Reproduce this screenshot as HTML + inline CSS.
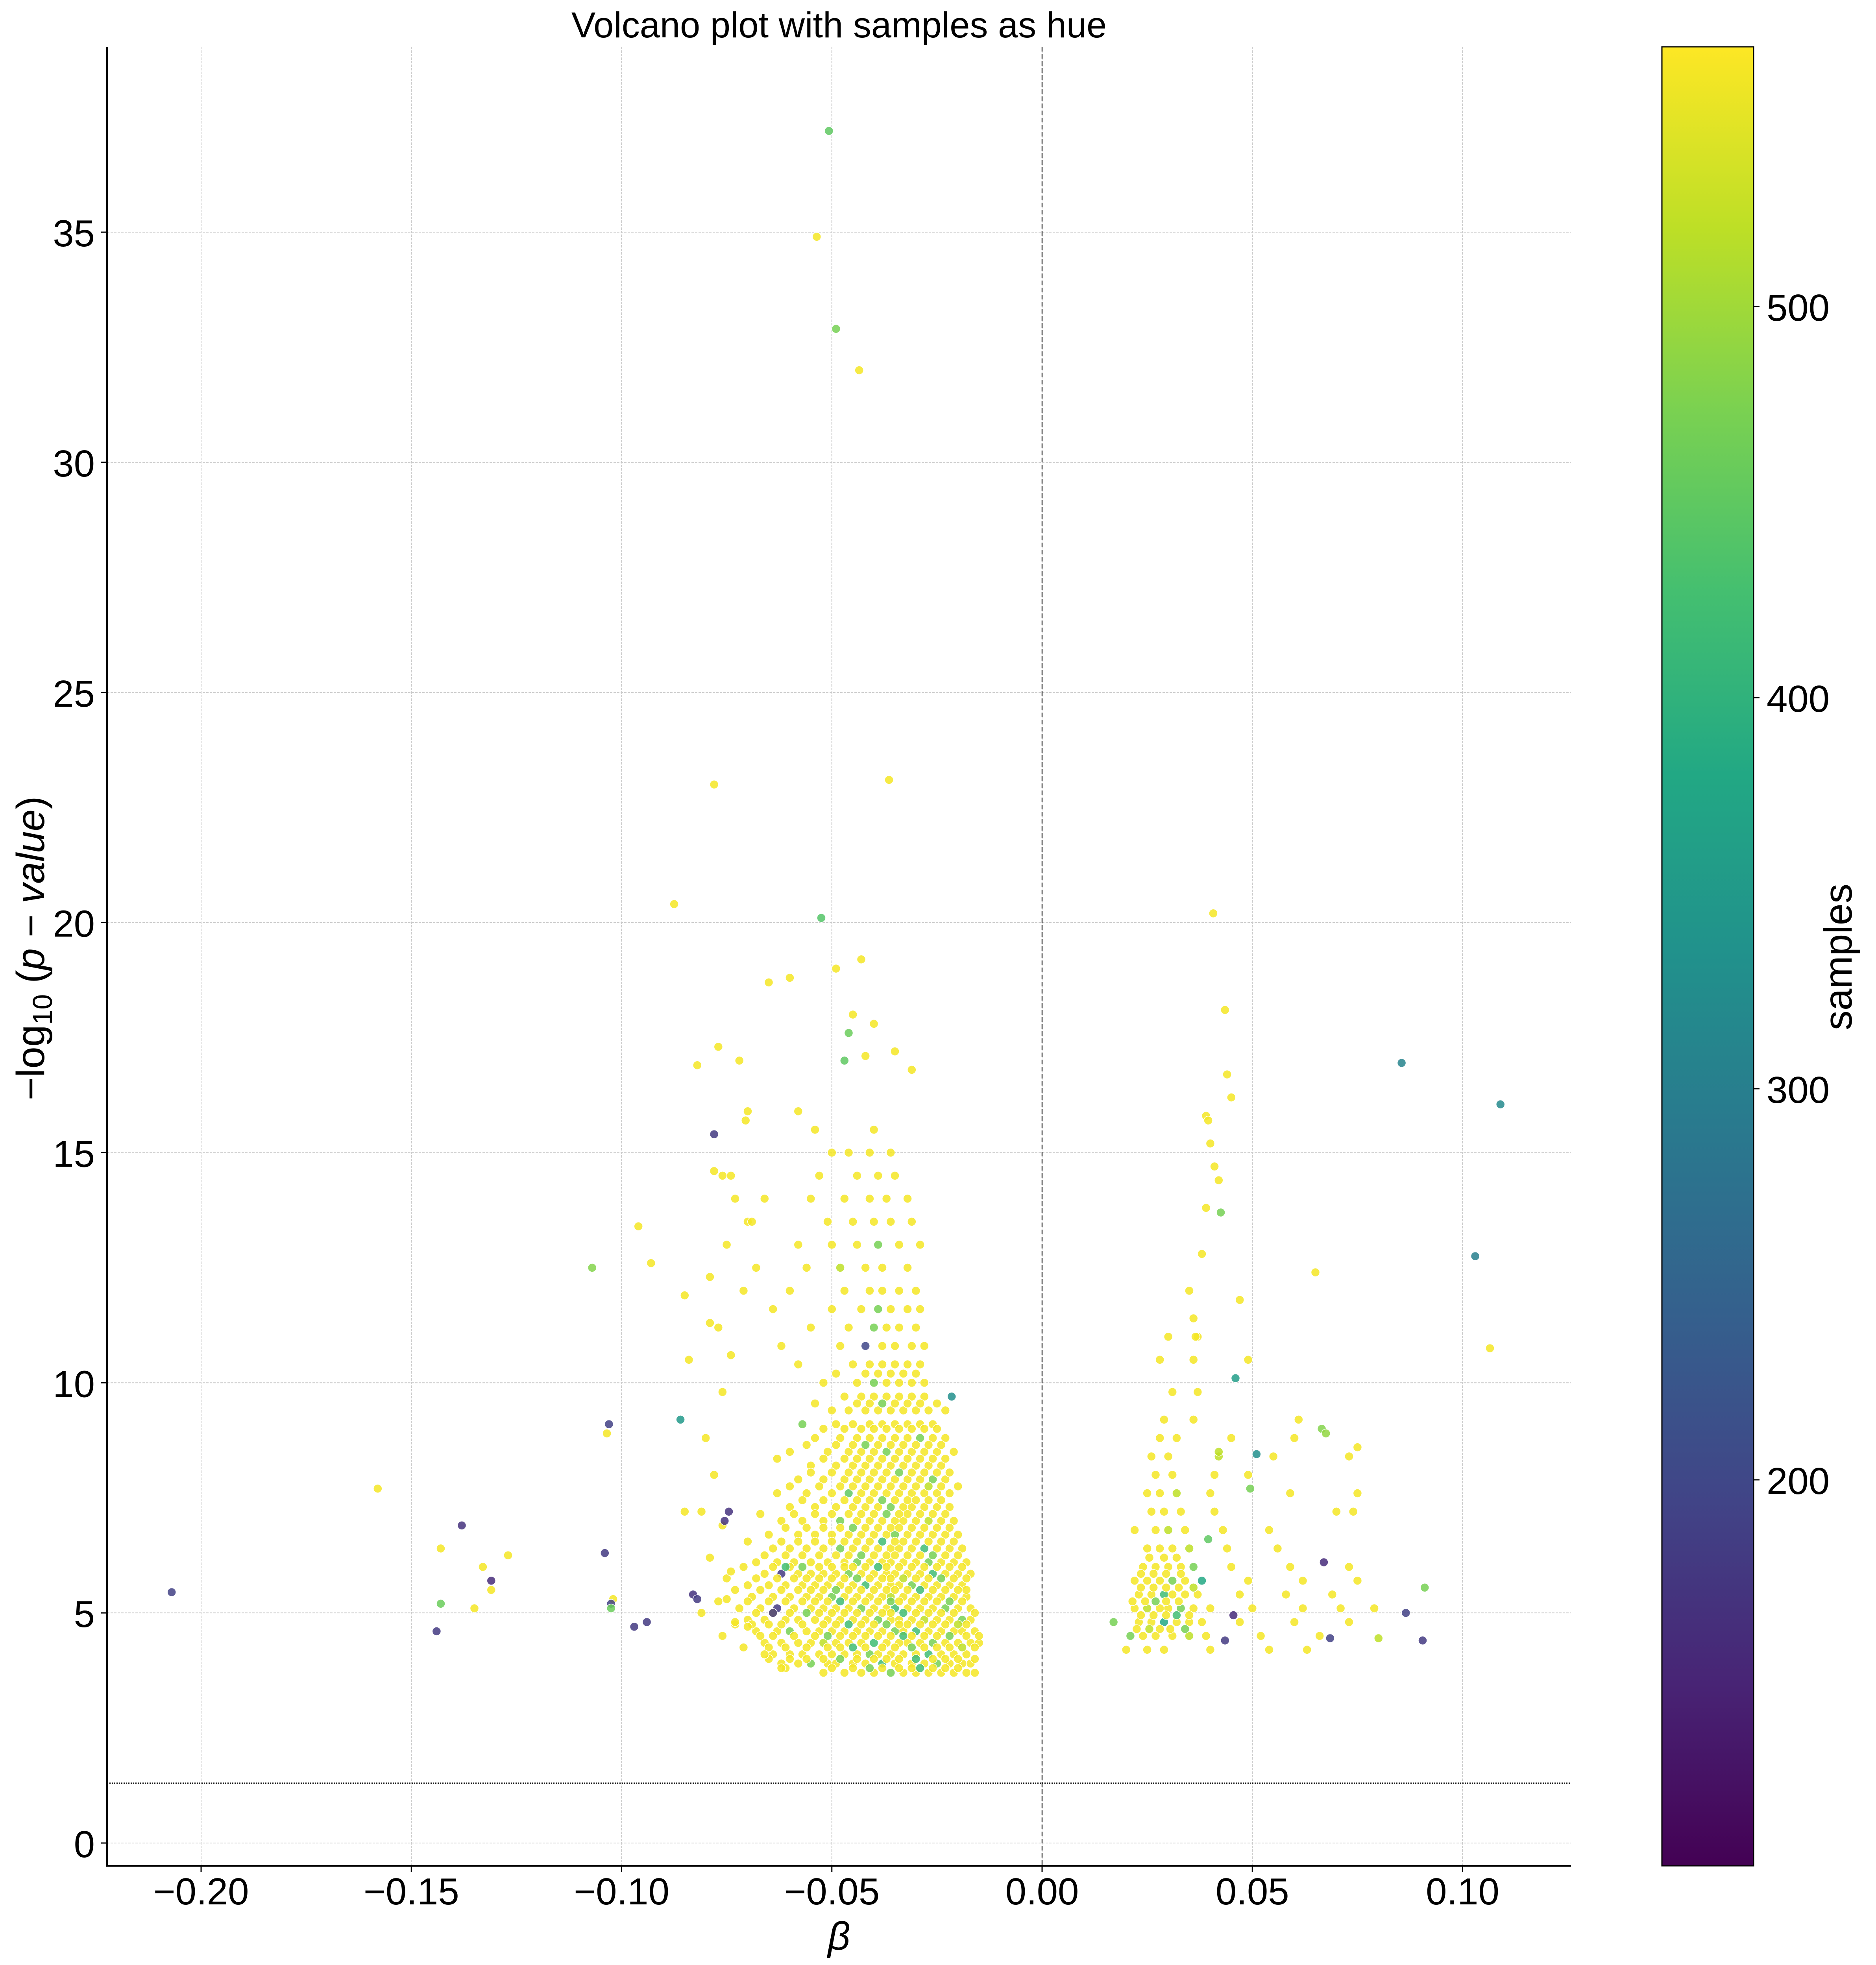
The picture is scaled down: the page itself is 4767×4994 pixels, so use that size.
<!DOCTYPE html>
<html><head><meta charset="utf-8"><style>
html,body{margin:0;padding:0;background:#fff;}
svg{display:block;font-family:"Liberation Sans",sans-serif;}
</style></head><body>
<svg id="chart" width="4767" height="4994" viewBox="0 0 4767 4994" xmlns="http://www.w3.org/2000/svg">
<defs>
<linearGradient id="viridis" x1="0" y1="1" x2="0" y2="0">
<stop offset="0" stop-color="#440154"/><stop offset="0.1" stop-color="#482475"/><stop offset="0.2" stop-color="#414487"/><stop offset="0.3" stop-color="#355f8d"/><stop offset="0.4" stop-color="#2a788e"/><stop offset="0.5" stop-color="#21918c"/><stop offset="0.6" stop-color="#22a884"/><stop offset="0.7" stop-color="#44bf70"/><stop offset="0.8" stop-color="#7ad151"/><stop offset="0.9" stop-color="#bddf26"/><stop offset="1" stop-color="#fde725"/>
</linearGradient>
</defs>
<g id="grid"></g>
<g id="refs"></g>
<g id="points"></g>
<g id="axes"></g>
<text x="2132" y="95" font-size="92" text-anchor="middle">Volcano plot with samples as hue</text>
<text x="2132" y="4955" font-size="100" font-style="italic" text-anchor="middle">β</text>
<text transform="translate(112,2410) rotate(-90)" font-size="100" text-anchor="middle">−log<tspan font-size="70" dy="20">10</tspan><tspan dy="-20"> (</tspan><tspan font-style="italic">p</tspan> − <tspan font-style="italic">value</tspan>)</text>
<rect x="4223" y="119" width="233" height="4623" fill="url(#viridis)" stroke="#000" stroke-width="3"/>
<g id="cbticks"></g>
<text transform="translate(4705,2432) rotate(-90)" font-size="100" text-anchor="middle">samples</text>
</svg>
<script>
const xTicks = [-0.20, -0.15, -0.10, -0.05, 0.00, 0.05, 0.10];
const xTickLabels = ["−0.20","−0.15","−0.10","−0.05","0.00","0.05","0.10"];
const yTicks = [0, 5, 10, 15, 20, 25, 30, 35];
const cbTicks = [200, 300, 400, 500];
const thresholdP = 1.301;

// dense left cluster: rows of (logp, betas, samples)
const leftRowLogp = [3.7,3.9,4.1,4.35,4.6,4.85,5.1,5.35,5.6,5.85,6.1,6.4,6.7,7.0,7.3,7.6,7.9,8.2,8.5,8.8,9.1,9.4,9.7,10.0,10.4,10.8,11.2,11.6,12.0,12.5,13.0,13.5,14.0,14.5,15.0,15.5];
const leftRowBeta = [
[-0.052,-0.047,-0.043,-0.040,-0.036,-0.033,-0.030,-0.027,-0.024,-0.021,-0.018,-0.016],
[-0.062,-0.058,-0.055,-0.051,-0.049,-0.045,-0.042,-0.038,-0.035,-0.031,-0.028,-0.025,-0.022,-0.019,-0.017],
[-0.064,-0.060,-0.057,-0.053,-0.050,-0.047,-0.044,-0.041,-0.039,-0.036,-0.033,-0.030,-0.027,-0.024,-0.021,-0.018],
[-0.066,-0.062,-0.058,-0.055,-0.052,-0.049,-0.046,-0.043,-0.040,-0.037,-0.034,-0.032,-0.029,-0.026,-0.023,-0.020,-0.017,-0.015],
[-0.068,-0.063,-0.060,-0.056,-0.053,-0.050,-0.047,-0.044,-0.041,-0.038,-0.035,-0.033,-0.030,-0.027,-0.024,-0.021,-0.019,-0.016],
[-0.070,-0.066,-0.061,-0.058,-0.054,-0.051,-0.048,-0.045,-0.042,-0.039,-0.036,-0.034,-0.031,-0.028,-0.025,-0.022,-0.019,-0.017],
[-0.072,-0.067,-0.063,-0.059,-0.055,-0.052,-0.049,-0.046,-0.043,-0.040,-0.037,-0.035,-0.032,-0.029,-0.026,-0.023,-0.020,-0.017],
[-0.069,-0.064,-0.060,-0.056,-0.053,-0.050,-0.047,-0.044,-0.041,-0.038,-0.036,-0.033,-0.030,-0.027,-0.024,-0.021,-0.018],
[-0.070,-0.065,-0.061,-0.057,-0.054,-0.051,-0.048,-0.045,-0.042,-0.039,-0.036,-0.034,-0.031,-0.028,-0.025,-0.022,-0.019],
[-0.066,-0.062,-0.058,-0.055,-0.052,-0.049,-0.046,-0.043,-0.040,-0.037,-0.035,-0.032,-0.029,-0.026,-0.023,-0.020,-0.017],
[-0.068,-0.063,-0.059,-0.055,-0.051,-0.047,-0.044,-0.041,-0.038,-0.036,-0.033,-0.030,-0.027,-0.024,-0.021,-0.018],
[-0.064,-0.060,-0.056,-0.052,-0.048,-0.045,-0.042,-0.039,-0.036,-0.034,-0.031,-0.028,-0.025,-0.022,-0.019],
[-0.065,-0.058,-0.054,-0.050,-0.046,-0.043,-0.040,-0.037,-0.035,-0.032,-0.029,-0.026,-0.023,-0.020],
[-0.062,-0.057,-0.052,-0.048,-0.044,-0.041,-0.038,-0.035,-0.033,-0.030,-0.027,-0.024,-0.021],
[-0.060,-0.054,-0.049,-0.045,-0.042,-0.039,-0.036,-0.033,-0.031,-0.028,-0.025,-0.022],
[-0.063,-0.056,-0.050,-0.046,-0.043,-0.040,-0.037,-0.034,-0.031,-0.028,-0.025,-0.022],
[-0.058,-0.052,-0.047,-0.044,-0.041,-0.038,-0.035,-0.032,-0.029,-0.026,-0.023],
[-0.055,-0.049,-0.045,-0.042,-0.039,-0.036,-0.033,-0.030,-0.027,-0.024],
[-0.060,-0.051,-0.046,-0.043,-0.040,-0.037,-0.034,-0.031,-0.028,-0.025,-0.021],
[-0.054,-0.048,-0.044,-0.041,-0.038,-0.035,-0.032,-0.029,-0.026,-0.023],
[-0.057,-0.049,-0.045,-0.041,-0.038,-0.035,-0.032,-0.029,-0.026],
[-0.050,-0.046,-0.042,-0.039,-0.036,-0.033,-0.030,-0.027,-0.023],
[-0.047,-0.043,-0.040,-0.037,-0.034,-0.031,-0.028,-0.0215],
[-0.052,-0.044,-0.040,-0.037,-0.034,-0.031,-0.028],
[-0.058,-0.045,-0.041,-0.038,-0.035,-0.032,-0.029],
[-0.062,-0.048,-0.042,-0.038,-0.035,-0.031,-0.028],
[-0.055,-0.046,-0.040,-0.037,-0.034,-0.030],
[-0.064,-0.050,-0.043,-0.039,-0.036,-0.032,-0.029],
[-0.060,-0.047,-0.041,-0.038,-0.034,-0.030],
[-0.068,-0.056,-0.048,-0.042,-0.038,-0.032],
[-0.058,-0.050,-0.044,-0.039,-0.034,-0.029],
[-0.070,-0.051,-0.045,-0.040,-0.036,-0.031],
[-0.066,-0.055,-0.047,-0.041,-0.037,-0.032],
[-0.074,-0.053,-0.044,-0.039,-0.035],
[-0.050,-0.046,-0.041,-0.036],
[-0.054,-0.040]
];
const leftRowSamples = [
[560,560,560,560,470,560,560,560,560,560,560,560],
[560,560,470,560,560,560,560,420,560,560,560,470,560,560,560],
[560,560,560,560,560,560,560,470,560,560,560,560,420,560,560,560],
[560,560,560,560,520,560,560,560,420,560,560,560,560,470,560,560,560,560],
[560,560,470,560,560,560,560,560,560,560,470,560,420,560,560,560,560,560],
[560,560,560,560,560,560,560,560,560,470,560,560,560,520,560,560,470,560],
[560,560,180,560,560,560,560,560,470,560,560,420,560,560,560,470,560,560],
[560,560,560,560,560,470,560,560,560,560,520,560,560,560,560,560,560],
[560,560,560,560,560,560,560,560,420,560,560,560,470,560,560,560,560],
[560,180,560,560,560,560,470,560,560,560,560,560,560,420,560,560,560],
[560,560,560,560,560,560,470,560,560,560,560,560,470,560,560,560],
[560,560,560,560,470,560,560,560,560,560,560,420,560,560,560],
[560,560,560,560,560,560,560,560,470,560,560,560,560,560],
[560,560,560,470,560,560,560,560,560,560,520,560,560],
[560,560,560,560,560,560,470,560,560,560,560,560],
[560,560,560,450,560,560,560,560,560,560,560,560],
[560,560,560,560,560,560,560,560,560,470,560],
[560,560,560,560,560,560,560,560,560,560],
[560,560,560,560,560,470,560,560,560,560,560],
[560,560,560,560,560,560,560,470,560,560],
[470,560,560,560,560,560,560,560,560],
[560,560,560,560,560,560,560,560,560],
[560,560,560,560,560,560,560,330],
[560,560,470,560,560,560,560],
[560,560,560,560,560,560,560],
[560,560,200,560,560,560,560],
[560,560,470,560,560,560],
[560,560,560,470,560,560,560],
[560,560,560,560,560,560],
[560,560,520,560,560,560],
[560,560,560,470,560,560],
[560,560,560,560,560,560],
[560,560,560,560,560,560],
[560,560,560,560,560],
[560,560,560,560],
[560,560]
];

// extra fill points in the left core (between rows)
const leftFillLogp = [3.8,4.0,4.25,4.5,4.75,5.0,5.25,5.5,5.75,6.0,6.25,6.55,6.85,7.15,7.45,7.75,8.05,8.35,8.65,9.0,9.55,10.2];
const leftFillBeta = [
[-0.061,-0.050,-0.045,-0.041,-0.038,-0.034,-0.031,-0.029,-0.026,-0.023,-0.020],
[-0.065,-0.060,-0.056,-0.052,-0.048,-0.044,-0.040,-0.037,-0.034,-0.030,-0.026,-0.023,-0.020,-0.016],
[-0.071,-0.065,-0.061,-0.056,-0.051,-0.048,-0.045,-0.042,-0.038,-0.035,-0.031,-0.028,-0.025,-0.022,-0.019,-0.016],
[-0.076,-0.067,-0.064,-0.059,-0.054,-0.051,-0.048,-0.045,-0.042,-0.039,-0.036,-0.033,-0.031,-0.028,-0.025,-0.022,-0.018,-0.015],
[-0.073,-0.069,-0.065,-0.062,-0.057,-0.052,-0.049,-0.046,-0.043,-0.040,-0.037,-0.034,-0.032,-0.029,-0.026,-0.023,-0.020,-0.018],
[-0.081,-0.068,-0.064,-0.060,-0.056,-0.053,-0.050,-0.047,-0.044,-0.041,-0.038,-0.036,-0.033,-0.030,-0.027,-0.024,-0.021,-0.016],
[-0.077,-0.070,-0.065,-0.061,-0.057,-0.054,-0.051,-0.048,-0.045,-0.042,-0.039,-0.036,-0.034,-0.031,-0.028,-0.025,-0.022,-0.019],
[-0.073,-0.067,-0.062,-0.058,-0.055,-0.052,-0.049,-0.046,-0.043,-0.040,-0.037,-0.035,-0.032,-0.029,-0.026,-0.023,-0.020,-0.018],
[-0.075,-0.068,-0.063,-0.059,-0.056,-0.053,-0.050,-0.047,-0.044,-0.041,-0.038,-0.036,-0.033,-0.030,-0.027,-0.024,-0.021,-0.018],
[-0.071,-0.064,-0.060,-0.057,-0.053,-0.050,-0.047,-0.045,-0.042,-0.039,-0.037,-0.034,-0.031,-0.028,-0.025,-0.022,-0.019],
[-0.066,-0.061,-0.057,-0.053,-0.049,-0.046,-0.043,-0.040,-0.037,-0.035,-0.032,-0.029,-0.026,-0.023,-0.020],
[-0.070,-0.062,-0.058,-0.054,-0.050,-0.047,-0.044,-0.041,-0.038,-0.035,-0.033,-0.030,-0.027,-0.024,-0.021],
[-0.061,-0.056,-0.052,-0.048,-0.045,-0.042,-0.039,-0.036,-0.034,-0.031,-0.028,-0.025,-0.022],
[-0.067,-0.059,-0.054,-0.050,-0.046,-0.043,-0.040,-0.037,-0.034,-0.032,-0.029,-0.026,-0.023],
[-0.057,-0.052,-0.047,-0.044,-0.041,-0.038,-0.035,-0.032,-0.030,-0.027,-0.024],
[-0.060,-0.053,-0.048,-0.045,-0.042,-0.039,-0.036,-0.033,-0.030,-0.027,-0.024,-0.020],
[-0.055,-0.050,-0.046,-0.043,-0.040,-0.037,-0.034,-0.031,-0.028,-0.025,-0.022],
[-0.063,-0.052,-0.047,-0.044,-0.041,-0.038,-0.035,-0.032,-0.029,-0.026,-0.023],
[-0.056,-0.049,-0.045,-0.042,-0.039,-0.036,-0.033,-0.030,-0.027,-0.024],
[-0.052,-0.047,-0.043,-0.040,-0.037,-0.034,-0.031,-0.028,-0.025],
[-0.054,-0.044,-0.041,-0.038,-0.035,-0.032,-0.029,-0.025],
[-0.049,-0.042,-0.039,-0.036,-0.033,-0.030]
];
const leftFillSamples = [
[560,560,560,470,560,560,560,420,560,560,560],
[560,560,560,560,470,560,560,560,560,420,560,560,560,560],
[560,560,560,560,560,560,420,560,560,560,470,560,560,560,520,560],
[560,560,560,560,560,470,560,560,560,560,560,420,560,560,560,470,560,560],
[560,560,560,560,560,560,560,420,560,560,470,560,560,560,560,560,520,560],
[560,560,560,560,470,560,560,560,560,560,560,560,420,560,560,560,560,560],
[560,560,560,560,560,560,560,420,560,560,560,470,560,560,560,560,470,560],
[560,560,560,560,560,560,470,560,560,560,560,560,560,420,560,560,560,560],
[560,560,560,560,560,560,560,560,470,560,560,560,520,560,560,470,560,560],
[560,560,560,470,560,560,560,560,560,420,560,560,560,560,560,560,560],
[560,560,560,560,560,560,470,560,560,560,560,560,470,560,560],
[560,560,560,560,560,560,560,560,420,560,560,560,560,560,560],
[560,560,560,560,470,560,560,560,560,560,560,560,560],
[560,560,560,560,560,560,560,470,560,560,560,560,560],
[560,560,560,560,560,470,560,560,560,560,560],
[560,560,560,560,560,560,560,560,560,520,560,560],
[560,560,560,560,560,560,470,560,560,560,560],
[560,560,560,560,560,560,560,560,560,560,560],
[560,560,560,470,560,560,560,560,560,560],
[560,560,560,560,560,560,560,560,560],
[560,560,560,470,560,560,560,560],
[560,560,560,560,560,560]
];

// right cluster rows
const rightRowLogp = [4.2,4.5,4.8,5.1,5.4,5.7,6.0,6.4,6.8,7.2,7.6,8.0,8.4,8.8,9.2,9.8,10.5,11.0,4.65,4.95,5.25,5.55,5.85,6.2];
const rightRowBeta = [
[0.020,0.025,0.029,0.040,0.054,0.063],
[0.021,0.024,0.027,0.031,0.035,0.039,0.052,0.066],
[0.017,0.023,0.026,0.029,0.032,0.035,0.038,0.047,0.060,0.073],
[0.022,0.025,0.028,0.030,0.033,0.036,0.040,0.050,0.062,0.071,0.079],
[0.023,0.026,0.029,0.031,0.034,0.037,0.047,0.058,0.069],
[0.022,0.025,0.028,0.031,0.034,0.038,0.049,0.062,0.075],
[0.024,0.027,0.030,0.033,0.036,0.045,0.059,0.073],
[0.025,0.028,0.031,0.035,0.044,0.056],
[0.022,0.027,0.030,0.034,0.043,0.054],
[0.026,0.029,0.033,0.041,0.070,0.074],
[0.025,0.028,0.032,0.040,0.059,0.075],
[0.027,0.031,0.041,0.049],
[0.026,0.030,0.042,0.055,0.073],
[0.028,0.032,0.045,0.060],
[0.029,0.036,0.061],
[0.031,0.037],
[0.028,0.036,0.049],
[0.030,0.037],
[0.0225,0.0255,0.028,0.0305,0.034],
[0.0235,0.0265,0.0295,0.032,0.035],
[0.0215,0.0245,0.027,0.0295,0.0325],
[0.0235,0.0265,0.0295,0.0325,0.036],
[0.0235,0.0265,0.0295,0.033],
[0.0255,0.029,0.032]
];
const rightRowSamples = [
[560,560,560,560,560,560],
[470,560,560,560,520,560,560,560],
[470,560,560,380,560,560,560,560,560,560],
[560,520,560,560,470,560,560,560,560,560,560],
[560,560,420,560,560,560,560,560,560],
[560,560,560,470,560,380,560,560,560],
[560,560,560,560,470,560,560,560],
[560,560,560,520,560,560],
[560,560,520,560,560,560],
[560,560,560,560,560,560],
[560,560,520,560,560,560],
[560,560,560,560],
[560,560,520,560,560],
[560,560,560,560],
[560,560,560],
[560,560],
[560,560,560],
[560,560],
[560,520,560,560,470],
[560,560,560,420,560],
[560,560,470,560,560],
[560,560,560,560,520],
[560,560,560,560],
[560,560,560]
];

// individual outliers
const outBeta = [-0.0507,-0.0536,-0.049,-0.0435,-0.0364,-0.078,-0.0875,-0.0525,0.0407,-0.049,-0.043,-0.060,-0.065,0.0435,-0.045,-0.040,-0.046,-0.077,-0.035,-0.082,-0.047,-0.072,0.0855,-0.042,-0.031,0.044,0.045,0.109,-0.058,0.039,0.0395,-0.078,-0.070,-0.0705,0.040,0.041,0.042,0.039,0.0425,0.038,0.035,0.036,0.0365,0.065,0.103,0.1065,0.047,-0.107,-0.096,-0.093,-0.085,-0.079,-0.103,-0.1035,-0.086,-0.084,-0.158,-0.138,-0.143,-0.127,-0.133,-0.131,-0.131,-0.207,-0.143,-0.135,-0.144,-0.104,-0.102,-0.1025,-0.1025,-0.097,-0.094,-0.083,-0.082,-0.085,-0.078,-0.076,-0.073,-0.069,-0.075,-0.079,-0.071,-0.077,-0.074,-0.076,-0.080,-0.078,-0.081,-0.076,-0.079,-0.074,-0.075,-0.073,-0.070,-0.066,-0.062,0.091,0.0905,0.0865,0.0685,0.067,0.0665,0.0675,0.0455,0.0435,0.051,0.0495,0.046,0.042,0.0395,0.080,0.075,-0.0745,-0.0755,-0.061,-0.064];
const outLogp = [37.2,34.9,32.9,32.0,23.1,23.0,20.4,20.1,20.2,19.0,19.2,18.8,18.7,18.1,18.0,17.8,17.6,17.3,17.2,16.9,17.0,17.0,16.95,17.1,16.8,16.7,16.2,16.05,15.9,15.8,15.7,15.4,15.9,15.7,15.2,14.7,14.4,13.8,13.7,12.8,12.0,11.4,11.0,12.4,12.75,10.75,11.8,12.5,13.4,12.6,11.9,11.3,9.1,8.9,9.2,10.5,7.7,6.9,6.4,6.25,6.0,5.7,5.5,5.45,5.2,5.1,4.6,6.3,5.3,5.2,5.1,4.7,4.8,5.4,5.3,7.2,14.6,14.5,14.0,13.5,13.0,12.3,12.0,11.2,10.6,9.8,8.8,8.0,7.2,6.9,6.2,5.9,5.3,4.8,4.7,4.1,3.8,5.55,4.4,5.0,4.45,6.1,9.0,8.9,4.95,4.4,8.45,7.7,10.1,8.5,6.6,4.45,8.6,7.2,7.0,6.0,5.0];
const outSamples = [450,560,470,560,560,560,560,440,560,560,560,560,560,560,560,560,460,560,560,560,450,560,310,560,560,560,560,320,560,560,560,180,560,560,560,560,560,560,470,560,560,560,560,560,300,560,560,480,560,560,560,560,190,560,350,560,560,170,560,560,560,160,560,190,460,560,180,180,560,190,460,180,180,170,180,560,560,560,560,560,560,560,560,560,560,560,560,560,560,560,560,560,560,560,560,560,560,470,180,190,190,160,480,490,160,180,330,470,360,520,450,520,560,170,170,420,180];

const NS = "http://www.w3.org/2000/svg";
const X0 = 2648, XS = 10685, Y0 = 4684, YS = 116.97;
const AX_L = 272, AX_R = 3992, AX_T = 119, AX_B = 4742;
const CB_T = 119, CB_B = 4742, CB_MIN = 101.3, CB_MAX = 566.4;
function xScale(b){ return X0 + b * XS; }
function yScale(v){ return Y0 - v * YS; }
function cbScale(s){ return CB_B - (s - CB_MIN) / (CB_MAX - CB_MIN) * (CB_B - CB_T); }
const vir = [[68,1,84],[72,36,117],[65,68,135],[53,95,141],[42,120,142],[33,145,140],[34,168,132],[68,191,112],[122,209,81],[189,223,38],[253,231,37]];
function viridis(s){
  let t = Math.max(0, Math.min(1, (s - CB_MIN) / (CB_MAX - CB_MIN))) * 10;
  const i = Math.min(9, Math.floor(t)), f = t - i;
  const c = vir[i].map((v, k) => Math.round(v + (vir[i+1][k] - v) * f));
  return "rgb(" + c.join(",") + ")";
}
function mk(tag, attrs, parent){
  const el = document.createElementNS(NS, tag);
  for (const k in attrs) el.setAttribute(k, attrs[k]);
  parent.appendChild(el);
  return el;
}
const grid = document.getElementById("grid");
const refs = document.getElementById("refs");
const pts = document.getElementById("points");
const axes = document.getElementById("axes");
const cbt = document.getElementById("cbticks");

xTicks.forEach((t, i) => {
  const x = xScale(t);
  const g = mk("line", {x1:x, x2:x, y1:AX_T, y2:AX_B, stroke:"#c8c8c8", "stroke-width":2, "stroke-dasharray":"6,3"}, grid);
  
  
  const tk = mk("line", {x1:x, x2:x, y1:AX_B, y2:AX_B+15, stroke:"#000", "stroke-width":3}, axes);
  
  
  const lb = mk("text", {x:x, y:4840, "font-size":96, "text-anchor":"middle"}, axes);
  lb.textContent = xTickLabels[i];
  
  
});
yTicks.forEach(t => {
  const y = yScale(t);
  const g = mk("line", {x1:AX_L, x2:AX_R, y1:y, y2:y, stroke:"#c8c8c8", "stroke-width":2, "stroke-dasharray":"6,3"}, grid);
  
  
  const tk = mk("line", {x1:AX_L-15, x2:AX_L, y1:y, y2:y, stroke:"#000", "stroke-width":3}, axes);
  
  
  const lb = mk("text", {x:241, y:y+36, "font-size":96, "text-anchor":"end"}, axes);
  lb.textContent = String(t);
  
  
});
const vl = mk("line", {x1:xScale(0), x2:xScale(0), y1:AX_T, y2:AX_B, stroke:"#333", "stroke-width":2.5, "stroke-dasharray":"12,6"}, refs);


const hl = mk("line", {x1:AX_L, x2:AX_R, y1:yScale(thresholdP), y2:yScale(thresholdP), stroke:"#000", "stroke-width":3, "stroke-dasharray":"3,3"}, refs);



function dot(b, v, s){
  const c = mk("circle", {cx:xScale(b).toFixed(1), cy:yScale(v).toFixed(1), r:11, fill:viridis(s), "fill-opacity":0.85, stroke:"#fff", "stroke-width":1.5}, pts);
  
  
}
leftRowLogp.forEach((v, r) => leftRowBeta[r].forEach((b, i) => dot(b, v, leftRowSamples[r][i])));
leftFillLogp.forEach((v, r) => leftFillBeta[r].forEach((b, i) => dot(b, v, leftFillSamples[r][i])));
rightRowLogp.forEach((v, r) => rightRowBeta[r].forEach((b, i) => dot(b, v, rightRowSamples[r][i])));
outBeta.forEach((b, i) => dot(b, outLogp[i], outSamples[i]));

const sl = mk("line", {x1:AX_L, x2:AX_L, y1:AX_T, y2:AX_B+2, stroke:"#000", "stroke-width":4}, axes);


const sb = mk("line", {x1:AX_L-2, x2:AX_R, y1:AX_B, y2:AX_B, stroke:"#000", "stroke-width":4}, axes);



cbTicks.forEach(t => {
  const y = cbScale(t);
  const tk = mk("line", {x1:4456, x2:4471, y1:y, y2:y, stroke:"#000", "stroke-width":3}, cbt);
  
  
  const lb = mk("text", {x:4489, y:y+36, "font-size":96}, cbt);
  lb.textContent = String(t);
  
  
});
</script>
</body></html>
